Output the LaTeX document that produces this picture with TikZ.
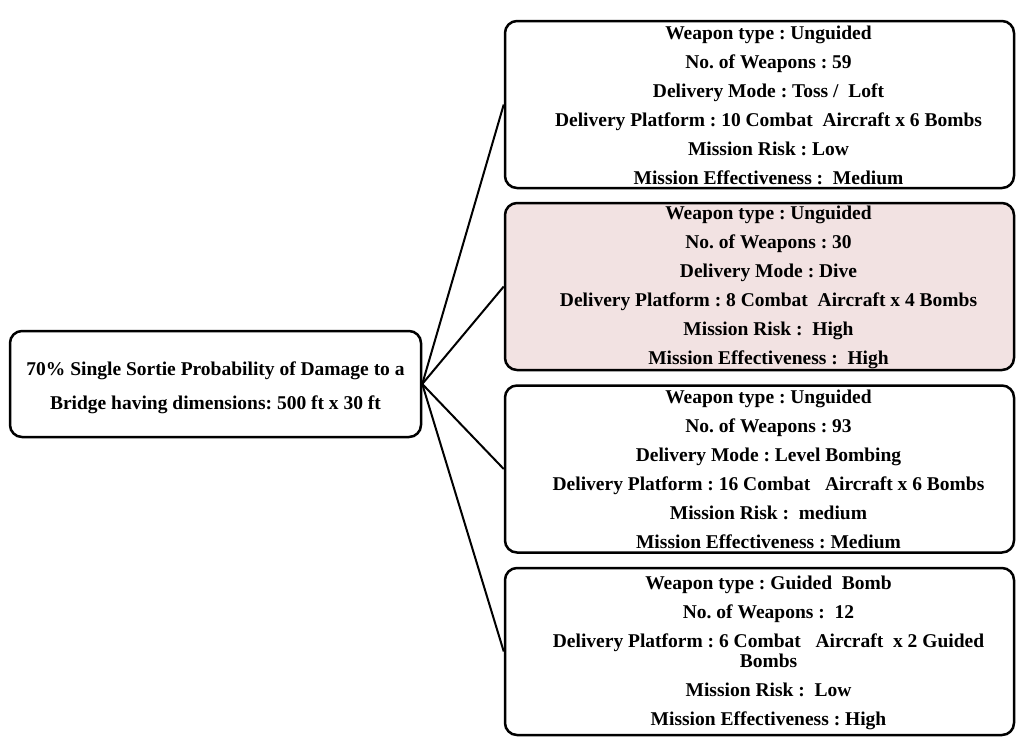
\documentclass[tikz,border=0pt]{standalone}
\usepackage{fontspec}
\setmainfont{Liberation Serif}
\definecolor{pinkfill}{HTML}{F2E2E2}
\frenchspacing
\begin{document}
\begin{tikzpicture}[x=1pt,y=-1pt,
  box/.style={draw=black, line width=2.5pt, rounded corners=12pt, inner sep=0pt,
    minimum width=509pt, minimum height=167pt},
  boxtext/.style={inner sep=0pt, align=center, font=\bfseries\fontsize{19.5}{29}\selectfont},
  rootbox/.style={draw=black, line width=2.5pt, rounded corners=12pt, inner sep=0pt,
    minimum width=411pt, minimum height=106pt},
  roottext/.style={inner sep=0pt, align=center, font=\bfseries\fontsize{19.5}{34}\selectfont},
  link/.style={draw=black, line width=2pt}]
\useasboundingbox (0,0) rectangle (1028,742);
\node[rootbox] (root) at (215.5,384) {};
\node[roottext] (rt) at ([yshift=-3.5pt]root.center) {70\% Single Sortie Probability of Damage to a\\Bridge having dimensions: 500 ft x 30 ft};
\node[box] (b1) at (759.5,104.5) {};
\node[box, fill=pinkfill] (b2) at (759.5,286.5) {};
\node[box] (b3) at (759.5,469) {};
\node[box] (b4) at (759.5,651.5) {};
\node[boxtext] (t1) at ([xshift=9pt,yshift=-0.5pt]b1.center) {Weapon type : Unguided\\No. of Weapons : 59\\Delivery Mode : Toss /\ \ Loft\\Delivery Platform : 10 Combat\ \ Aircraft x 6 Bombs\\Mission Risk : Low\\Mission Effectiveness :\ \ Medium};
\node[boxtext] (t2) at ([xshift=9pt,yshift=-0.5pt]b2.center) {Weapon type : Unguided\\No. of Weapons : 30\\Delivery Mode : Dive\\Delivery Platform : 8 Combat\ \ Aircraft x 4 Bombs\\Mission Risk :\ \ High\\Mission Effectiveness :\ \ High};
\node[boxtext] (t3) at ([xshift=9pt,yshift=-0.5pt]b3.center) {Weapon type : Unguided\\No. of Weapons : 93\\Delivery Mode : Level Bombing\\Delivery Platform : 16 Combat\ \ \ Aircraft x 6 Bombs\\Mission Risk :\ \ medium\\Mission Effectiveness : Medium};
\node[boxtext] (t4) at ([xshift=9pt,yshift=-1.5pt]b4.center) {Weapon type : Guided\ \ Bomb\\No. of Weapons :\ \ 12\\Delivery Platform : 6 Combat\ \ \ Aircraft\ \ x 2 Guided\\[-9pt]Bombs\\Mission Risk :\ \ Low\\Mission Effectiveness : High};
\draw[link] (root.east) -- (b1.west);
\draw[link] (root.east) -- (b2.west);
\draw[link] (root.east) -- (b3.west);
\draw[link] (root.east) -- (b4.west);
\end{tikzpicture}
\end{document}
